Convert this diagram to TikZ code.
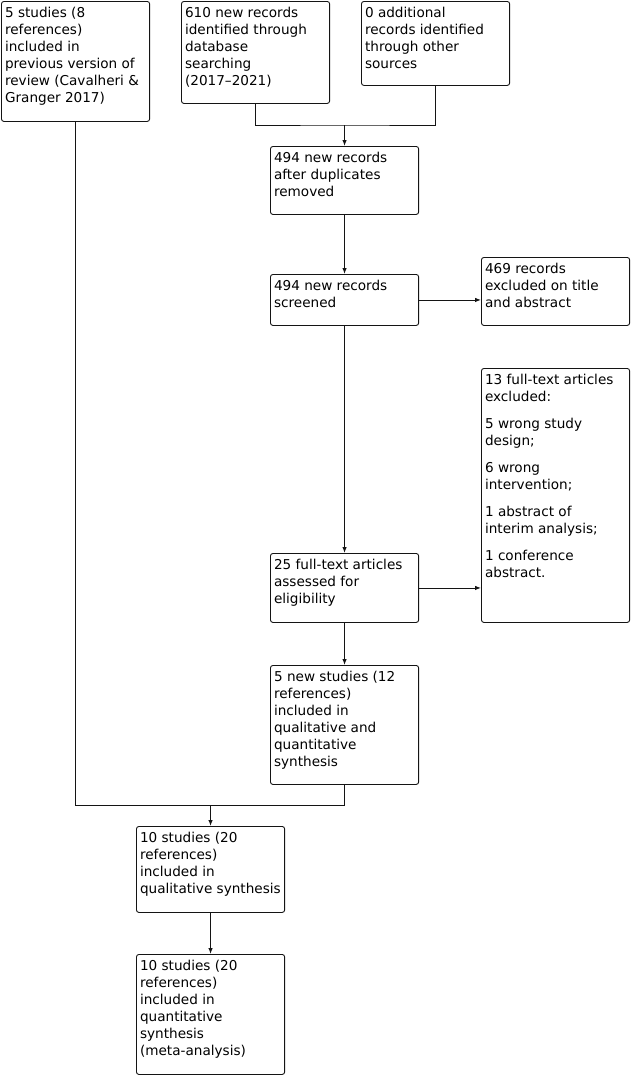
\documentclass[tikz,border=0pt]{standalone}
\usepackage{fontspec}
\setmainfont{DejaVu Sans}
\usetikzlibrary{arrows.meta,calc}
\definecolor{boxline}{RGB}{20,20,20}
\tikzset{
  flow/.style={
    x=1pt,
    y=-1pt,
    line width=0.9pt,
    font=\fontsize{13.6}{17}\selectfont
  },
  box/.style={
    draw=boxline,
    rounded corners=2.5pt,
    anchor=north west,
    inner xsep=3.6pt,
    inner ysep=4pt
  },
  link/.style={draw=boxline, line width=0.9pt},
  arrow/.style={link, -{Latex[length=6pt,width=4.5pt]}}
}
% name, x, y, inner height, text
\newcommand{\flowbox}[5]{%
  \node[box] (#1) at (#2,#3)
    {\begin{minipage}[t][#4pt][t]{141pt}\raggedright\strut #5\end{minipage}};
}

\begin{document}
\begin{tikzpicture}[flow]
  \useasboundingbox (0,0) rectangle (632,1076);
  \flowbox{prev}{1}{1}{112}{5 studies (8\\references)\\included in\\previous version of\\review (Cavalheri \&\\Granger 2017)}
  \flowbox{dbase}{181}{1}{94}{610 new records\\identified through\\database\\searching\\(2017--2021)}
  \flowbox{other}{361}{1}{76}{0 additional\\records identified\\through other\\sources}
  \flowbox{dedup}{270}{146}{60}{494 new records\\after duplicates\\removed}
  \flowbox{screen}{270}{274}{43}{494 new records\\screened}
  \flowbox{exclA}{481}{257}{60}{469 records\\excluded on title\\and abstract}
  \flowbox{exclB}{481}{368}{246}{13 full-text articles\\excluded:\\[10pt]5 wrong study\\design;\\[10pt]6 wrong\\intervention;\\[10pt]1 abstract of\\interim analysis;\\[10pt]1 conference\\abstract.}
  \flowbox{elig}{270}{553}{61}{25 full-text articles\\assessed for\\eligibility}
  \flowbox{newinc}{270}{665}{111}{5 new studies (12\\references)\\included in\\qualitative and\\quantitative\\synthesis}
  \flowbox{qual}{136}{826}{78}{10 studies (20\\references)\\included in\\qualitative synthesis}
  \flowbox{quant}{136}{954}{112}{10 studies (20\\references)\\included in\\quantitative\\synthesis\\(meta-analysis)}

  % merge points
  \coordinate (m1) at (dedup.north |- 0,125);
  \coordinate (m2) at (qual.north |- 0,805);

  \draw[link] (dbase.south) |- (m1) -| (other.south);
  \draw[arrow] (m1) -- (dedup.north);
  \draw[arrow] (dedup.south) -- (screen.north);
  \draw[arrow] (screen.east) -- (screen.east -| exclA.west);
  \draw[arrow] (screen.south) -- (elig.north);
  \draw[arrow] (elig.east) -- (elig.east -| exclB.west);
  \draw[arrow] (elig.south) -- (newinc.north);
  \draw[link] (newinc.south) |- (m2) -| (prev.south);
  \draw[arrow] (m2) -- (qual.north);
  \draw[arrow] (qual.south) -- (quant.north);
\end{tikzpicture}
\end{document}
